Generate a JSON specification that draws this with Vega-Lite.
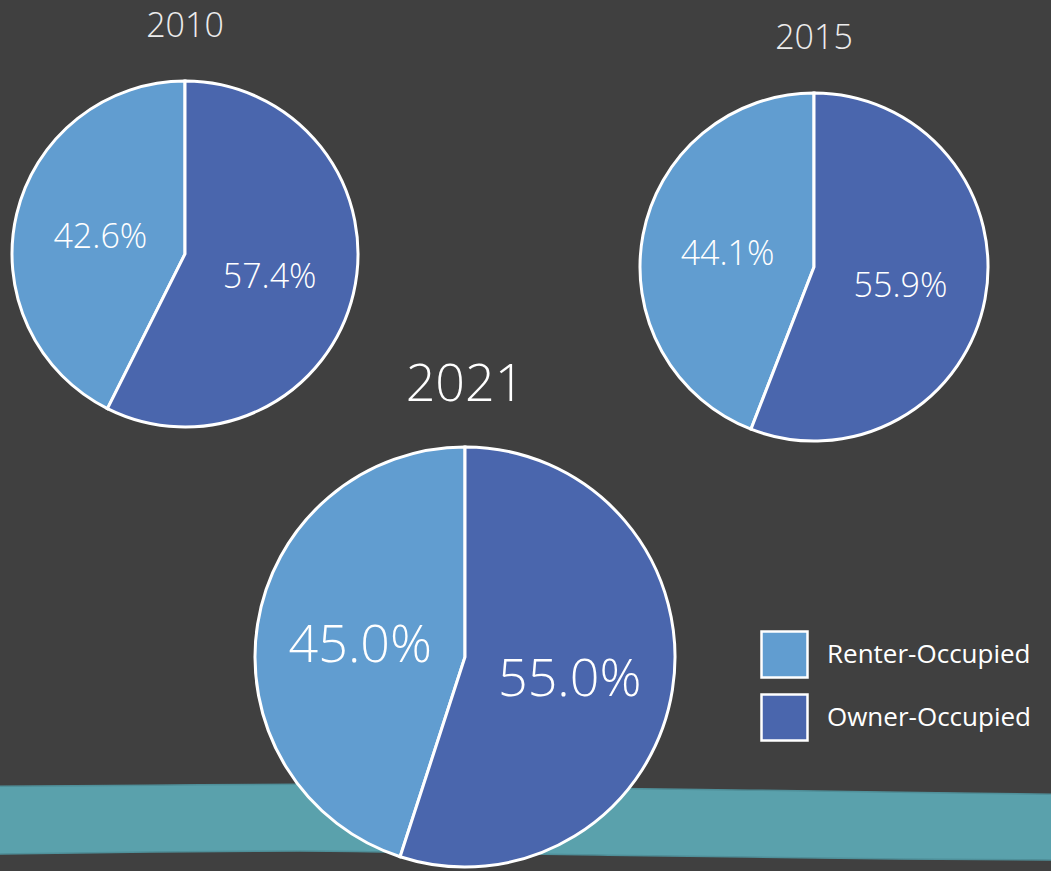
{
  "$schema": "https://vega.github.io/schema/vega-lite/v6.json",
  "width": 1051,
  "height": 871,
  "autosize": {"type": "fit", "contains": "padding"},
  "padding": 0,
  "background": "#404040",
  "config": {"view": {"stroke": null}, "font": "Open Sans"},
  "datasets": {
    "band": [
      {"x": 0, "top": 788, "bottom": 856},
      {"x": 150, "top": 787, "bottom": 854},
      {"x": 300, "top": 786, "bottom": 853},
      {"x": 450, "top": 787, "bottom": 855},
      {"x": 600, "top": 790, "bottom": 857},
      {"x": 750, "top": 792, "bottom": 859},
      {"x": 900, "top": 794, "bottom": 861},
      {"x": 1051, "top": 796, "bottom": 862}
    ],
    "pies": [
      {"year": 2010, "type": "Renter-Occupied", "share": 0.426},
      {"year": 2010, "type": "Owner-Occupied", "share": 0.574},
      {"year": 2015, "type": "Renter-Occupied", "share": 0.441},
      {"year": 2015, "type": "Owner-Occupied", "share": 0.559},
      {"year": 2021, "type": "Renter-Occupied", "share": 0.45},
      {"year": 2021, "type": "Owner-Occupied", "share": 0.55}
    ]
  },
  "layer": [
    {
      "data": {"name": "band"},
      "encoding": {
        "x": {"field": "x", "type": "quantitative", "axis": null, "scale": {"domain": [0, 1051], "nice": false, "zero": false}}
      },
      "layer": [
        {
          "mark": {"type": "area", "color": "#5aa1ac", "interpolate": "monotone", "clip": true},
          "encoding": {
            "y": {"field": "top", "type": "quantitative", "axis": null, "scale": {"domain": [0, 871], "reverse": true, "nice": false, "zero": false}},
            "y2": {"field": "bottom"}
          }
        },
        {
          "mark": {"type": "line", "color": "#4f8f99", "strokeWidth": 1.5, "interpolate": "monotone", "clip": true},
          "encoding": {
            "y": {"field": "top", "type": "quantitative"}
          }
        },
        {
          "mark": {"type": "line", "color": "#4f8f99", "strokeWidth": 1.5, "interpolate": "monotone", "clip": true},
          "encoding": {
            "y": {"field": "bottom", "type": "quantitative"}
          }
        }
      ]
    },
    {
      "data": {"name": "pies"},
      "encoding": {
        "x": {"field": "year", "type": "quantitative", "axis": null, "scale": {"domain": [2010, 2015, 2021], "range": [185, 814, 465], "nice": false, "zero": false}},
        "y": {"field": "year", "type": "quantitative", "axis": null, "scale": {"domain": [2010, 2015, 2021], "range": [254, 267, 657], "nice": false, "zero": false}}
      },
      "layer": [
        {
          "transform": [{"filter": "datum.year == 2010"}],
          "layer": [
            {
              "mark": {"type": "arc", "outerRadius": 173, "stroke": "white", "strokeWidth": 3},
              "encoding": {
                "theta": {"field": "share", "type": "quantitative", "stack": true},
                "order": {"field": "type", "sort": "ascending"},
                "color": {"field": "type", "type": "nominal", "scale": {"domain": ["Renter-Occupied", "Owner-Occupied"], "range": ["#619dd0", "#4a66ad"]}, "legend": {"orient": "none", "legendX": 760, "legendY": 630, "title": null, "symbolType": "square", "symbolSize": 2116, "symbolStrokeColor": "white", "symbolStrokeWidth": 2.5, "symbolOpacity": 1, "labelFontSize": 26, "labelColor": "white", "labelFont": "Open Sans", "labelLimit": 0, "rowPadding": 6, "labelOffset": 18, "labelExpr": "datum.value == 'Owner-Occupied' ? '\u2002Owner-Occupied' : datum.label"}}
              }
            },
            {
              "mark": {"type": "text", "radius": 87, "dy": 4, "color": "white", "fontSize": 34, "fontWeight": 300, "align": "center", "baseline": "middle"},
              "encoding": {
                "theta": {"field": "share", "type": "quantitative", "stack": true},
                "order": {"field": "type", "sort": "ascending"},
                "text": {"field": "share", "type": "quantitative", "format": ".1%"}
              }
            },
            {
              "transform": [{"filter": "datum.type == 'Renter-Occupied'"}],
              "mark": {"type": "text", "dy": -227, "color": "#ececec", "fontSize": 34, "fontWeight": 300, "align": "center", "baseline": "middle"},
              "encoding": {"text": {"field": "year", "type": "nominal"}}
            }
          ]
        },
        {
          "transform": [{"filter": "datum.year == 2015"}],
          "layer": [
            {
              "mark": {"type": "arc", "outerRadius": 174, "stroke": "white", "strokeWidth": 3},
              "encoding": {
                "theta": {"field": "share", "type": "quantitative", "stack": true},
                "order": {"field": "type", "sort": "ascending"},
                "color": {"field": "type", "type": "nominal", "scale": {"domain": ["Renter-Occupied", "Owner-Occupied"], "range": ["#619dd0", "#4a66ad"]}, "legend": {"orient": "none", "legendX": 760, "legendY": 630, "title": null, "symbolType": "square", "symbolSize": 2116, "symbolStrokeColor": "white", "symbolStrokeWidth": 2.5, "symbolOpacity": 1, "labelFontSize": 26, "labelColor": "white", "labelFont": "Open Sans", "labelLimit": 0, "rowPadding": 6, "labelOffset": 18, "labelExpr": "datum.value == 'Owner-Occupied' ? '\u2002Owner-Occupied' : datum.label"}}
              }
            },
            {
              "mark": {"type": "text", "radius": 88, "dy": 4, "color": "white", "fontSize": 34, "fontWeight": 300, "align": "center", "baseline": "middle"},
              "encoding": {
                "theta": {"field": "share", "type": "quantitative", "stack": true},
                "order": {"field": "type", "sort": "ascending"},
                "text": {"field": "share", "type": "quantitative", "format": ".1%"}
              }
            },
            {
              "transform": [{"filter": "datum.type == 'Renter-Occupied'"}],
              "mark": {"type": "text", "dy": -228, "color": "#ececec", "fontSize": 34, "fontWeight": 300, "align": "center", "baseline": "middle"},
              "encoding": {"text": {"field": "year", "type": "nominal"}}
            }
          ]
        },
        {
          "transform": [{"filter": "datum.year == 2021"}],
          "layer": [
            {
              "mark": {"type": "arc", "outerRadius": 210, "stroke": "white", "strokeWidth": 3},
              "encoding": {
                "theta": {"field": "share", "type": "quantitative", "stack": true},
                "order": {"field": "type", "sort": "ascending"},
                "color": {"field": "type", "type": "nominal", "scale": {"domain": ["Renter-Occupied", "Owner-Occupied"], "range": ["#619dd0", "#4a66ad"]}, "legend": {"orient": "none", "legendX": 760, "legendY": 630, "title": null, "symbolType": "square", "symbolSize": 2116, "symbolStrokeColor": "white", "symbolStrokeWidth": 2.5, "symbolOpacity": 1, "labelFontSize": 26, "labelColor": "white", "labelFont": "Open Sans", "labelLimit": 0, "rowPadding": 6, "labelOffset": 18, "labelExpr": "datum.value == 'Owner-Occupied' ? '\u2002Owner-Occupied' : datum.label"}}
              }
            },
            {
              "mark": {"type": "text", "radius": 106, "dy": 6, "color": "white", "fontSize": 52, "fontWeight": 300, "align": "center", "baseline": "middle"},
              "encoding": {
                "theta": {"field": "share", "type": "quantitative", "stack": true},
                "order": {"field": "type", "sort": "ascending"},
                "text": {"field": "share", "type": "quantitative", "format": ".1%"}
              }
            },
            {
              "transform": [{"filter": "datum.type == 'Renter-Occupied'"}],
              "mark": {"type": "text", "dy": -272, "color": "white", "fontSize": 52, "fontWeight": 300, "align": "center", "baseline": "middle"},
              "encoding": {"text": {"field": "year", "type": "nominal"}}
            }
          ]
        }
      ]
    }
  ],
  "resolve": {"scale": {"x": "independent", "y": "independent"}}
}
